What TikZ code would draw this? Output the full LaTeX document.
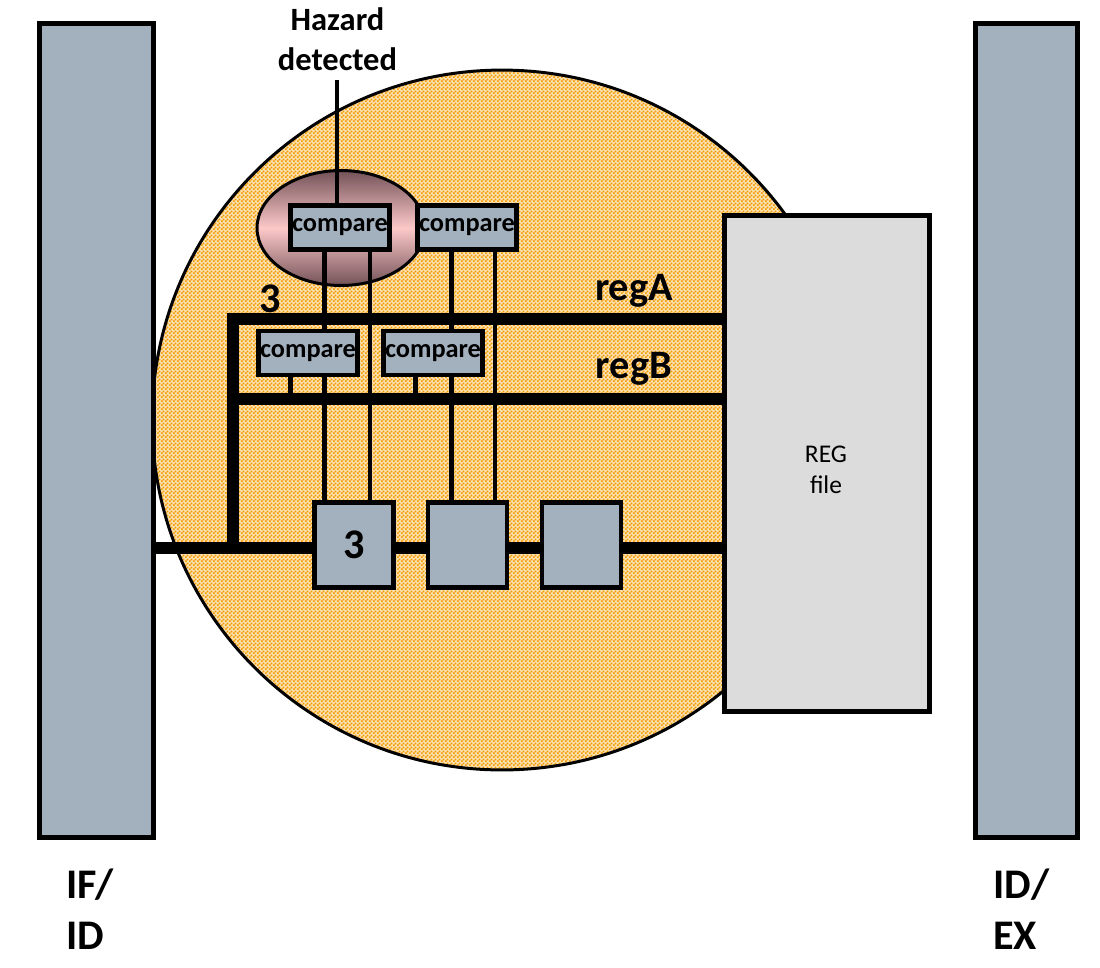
\documentclass[tikz,border=0pt]{standalone}
\usepackage{fontspec}
\setmainfont{Carlito}
\usetikzlibrary{shapes.geometric,patterns,backgrounds,calc}

\definecolor{latchgray}{RGB}{163,177,191}
\definecolor{regfill}{RGB}{220,220,220}
\definecolor{dotorange}{RGB}{242,155,0}
\definecolor{dotfill}{RGB}{252,226,180}
\definecolor{hazpink}{RGB}{252,200,200}
\definecolor{hazdark}{RGB}{115,82,88}

% speckled fill of the decode unit
\pgfdeclarepatternformonly{speckle}{\pgfqpoint{0pt}{0pt}}{\pgfqpoint{2.3pt}{2.3pt}}{\pgfqpoint{2.3pt}{2.3pt}}{%
    \pgfpathrectangle{\pgfqpoint{0pt}{0pt}}{\pgfqpoint{1.15pt}{1.15pt}}%
    \pgfpathrectangle{\pgfqpoint{1.15pt}{1.15pt}}{\pgfqpoint{1.15pt}{1.15pt}}%
    \pgfusepath{fill}}

\begin{document}
\begin{tikzpicture}[x=0.02cm, y=-0.02cm,
    latch/.style={draw, line width=2.8pt, fill=latchgray, inner sep=0pt},
    cmpbox/.style={latch, minimum width=1.98cm, minimum height=0.88cm, font=\fontsize{15}{18}\selectfont\bfseries},
    stagebox/.style={latch, minimum width=1.58cm, minimum height=1.7cm, font=\fontsize{24}{29}\selectfont\bfseries},
    biglbl/.style={font=\fontsize{24}{29}\selectfont\bfseries, inner sep=0pt},
    bus/.style={line width=6.8pt, line join=miter},
    wire/.style={line width=2.6pt}]
    \useasboundingbox (0,0) rectangle (1100,968);

    % Pipeline latches
    \node[latch, minimum width=2.28cm, minimum height=16.28cm] (ifid) at (96.5,430.5) {};
    \node[latch, minimum width=2.04cm, minimum height=16.28cm] (idex) at (1026.5,430.5) {};
    \node[biglbl, align=left, anchor=south west] (ifidlbl) at (66,950) {IF/\\ID};
    \node[biglbl, align=left, anchor=south west] (idexlbl) at (993,950) {ID/\\EX};

    % Register file
    \node[draw, line width=2.8pt, fill=regfill, minimum width=4.1cm, minimum height=9.92cm] (regfile) at (827,463.5) {};
    \node[align=center, font=\fontsize{14.5}{17.5}\selectfont, inner sep=0pt] (reglbl) at (826,470) {REG\\file};

    % Comparators
    \node[cmpbox] (cmp1) at (340,227.5) {compare};
    \node[cmpbox] (cmp2) at (467,227.5) {compare};
    \node[cmpbox] (cmp3) at (308,353) {compare};
    \node[cmpbox] (cmp4) at (433,353) {compare};

    % Later pipeline stages
    \node[stagebox] (box1) at (354,545) {3};
    \node[stagebox] (box2) at (467.5,545) {};
    \node[stagebox] (box3) at (581.5,545) {};

    % Labels
    \node[biglbl, anchor=base] (cnt) at (270,312) {3};
    \node[biglbl, font=\fontsize{23}{28}\selectfont\bfseries, anchor=base] (rega) at (634,300) {regA};
    \node[biglbl, font=\fontsize{23}{28}\selectfont\bfseries, anchor=base] (regb) at (634,378) {regB};
    \node[font=\fontsize{18.5}{22.5}\selectfont\bfseries, align=center, inner sep=0pt, anchor=south] (hazlbl) at (337.5,71) {Hazard\\detected};

    \begin{scope}[on background layer]
        % Decode unit
        \draw[line width=1.7pt, preaction={fill=dotfill}, pattern=speckle, pattern color=dotorange] (502,420) circle[radius=7cm];
        \node[ellipse, draw, line width=1.7pt, minimum width=3.36cm, minimum height=2.3cm,
              top color=hazdark, bottom color=hazdark, middle color=hazpink] (haz) at (341,228) {};

        % Buses
        \coordinate (busTL) at (233,319);
        \coordinate (busB) at (233,399);
        \coordinate (busBL) at (233,548);
        \draw[bus] (busTL -| regfile.west) -- (busTL) -- (busBL);
        \draw[bus] (busB) -- (busB -| regfile.west);
        \draw[bus] (busBL -| ifid.east) -- (busBL -| regfile.west);

        % Wires to the comparators
        \coordinate (c1a) at ($(cmp1.south west)!0.35!(cmp1.south east)$);
        \coordinate (c1b) at ($(cmp1.south west)!0.79!(cmp1.south east)$);
        \coordinate (c2a) at ($(cmp2.south west)!0.35!(cmp2.south east)$);
        \coordinate (c2b) at ($(cmp2.south west)!0.77!(cmp2.south east)$);
        \coordinate (c3s) at ($(cmp3.south west)!0.33!(cmp3.south east)$);
        \coordinate (c4s) at ($(cmp4.south west)!0.33!(cmp4.south east)$);
        \draw[wire] (c1a) -- (c1a |- box1.north);
        \draw[wire] (c1b) -- (c1b |- box1.north);
        \draw[wire] (c2a) -- (c2a |- box2.north);
        \draw[wire] (c2b) -- (c2b |- box2.north);
        \draw[wire] (c3s) -- (c3s |- busB);
        \draw[wire] (c4s) -- (c4s |- busB);

        % Hazard output
        \coordinate (hazout) at (337,80);
        \draw[wire] (hazout |- cmp1.north) -- (hazout);
    \end{scope}
\end{tikzpicture}
\end{document}
